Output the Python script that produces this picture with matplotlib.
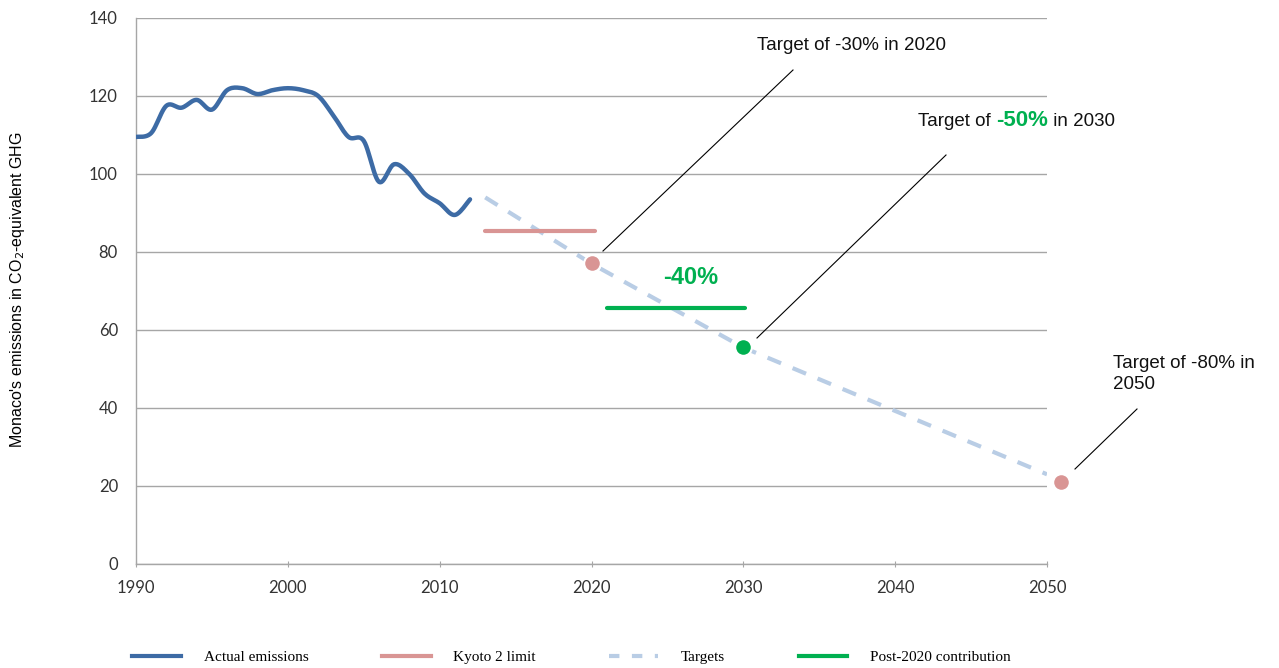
import numpy as np
import matplotlib
matplotlib.use("Agg")
import matplotlib.pyplot as plt
from matplotlib.lines import Line2D

# data
years = list(range(1990, 2013))
emissions = [109.5, 110.5, 117.5, 117.0, 119.0, 116.5, 121.5, 122.0, 120.5, 121.5,
             122.0, 121.5, 120.0, 115.0, 109.5, 108.5, 98.0, 102.5, 100.0, 95.0,
             92.5, 89.5, 93.5]

target_years = [2013, 2020, 2030, 2050]
target_values = [94.0, 77.0, 55.5, 23.0]

kyoto_years = [2013, 2020.2]
kyoto_values = [85.4, 85.4]

post2020_years = [2021, 2030.1]
post2020_values = [65.6, 65.6]

point_years = [2020, 2030, 2050.9]
point_values = [77.2, 55.6, 21.0]
point_colors = ["#D99594", "#00B050", "#D99594"]

BLUE = "#3D6BA5"
PINK = "#D99594"
LIGHT = "#B9CDE5"
GREEN = "#00B050"


def smooth(x, y, n=12):
    # Catmull-Rom curve through the points (like Excel's smoothed line)
    x = np.asarray(x, float)
    y = np.asarray(y, float)
    px = np.concatenate([[x[0]], x, [x[-1]]])
    py = np.concatenate([[y[0]], y, [y[-1]]])
    xs, ys = [], []
    t = np.linspace(0, 1, n, endpoint=False)
    for i in range(1, len(px) - 2):
        for arr, out in ((px, xs), (py, ys)):
            p0, p1, p2, p3 = arr[i - 1], arr[i], arr[i + 1], arr[i + 2]
            out.extend(0.5 * ((2 * p1) + (-p0 + p2) * t
                              + (2 * p0 - 5 * p1 + 4 * p2 - p3) * t ** 2
                              + (-p0 + 3 * p1 - 3 * p2 + p3) * t ** 3))
    xs.append(x[-1])
    ys.append(y[-1])
    return np.array(xs), np.array(ys)


fig = plt.figure(figsize=(12.79, 6.68), dpi=100)
ax = fig.add_axes([136 / 1279, 104 / 668, 911 / 1279, 546 / 668])

sx, sy = smooth(years, emissions)
ax.plot(sx, sy, color=BLUE, lw=3.2, solid_capstyle="round", zorder=4)
ax.plot(target_years, target_values, color=LIGHT, lw=3, dashes=(3.5, 3), zorder=3)
ax.plot(kyoto_years, kyoto_values, color=PINK, lw=3, solid_capstyle="round", zorder=4)
ax.plot(post2020_years, post2020_values, color=GREEN, lw=3, solid_capstyle="round", zorder=4)
for xv, yv, c in zip(point_years, point_values, point_colors):
    ax.plot(xv, yv, "o", ms=12, color=c, mec="white", mew=1.5, zorder=5, clip_on=False)

ax.text(2026.5, 73.5, "-40%", color=GREEN, fontsize=17, fontweight="bold",
        ha="center", va="center", family="Liberation Sans")

ax.set_xlim(1990, 2050)
ax.set_ylim(0, 140)
ax.set_xticks(range(1990, 2051, 10))
ax.set_yticks(range(0, 141, 20))
ax.yaxis.grid(True, color="#A6A6A6", lw=1)
ax.set_axisbelow(True)
for s in ["top", "right"]:
    ax.spines[s].set_visible(False)
for s in ["left", "bottom"]:
    ax.spines[s].set_color("#A6A6A6")
    ax.spines[s].set_linewidth(1)
ax.tick_params(axis="y", length=0, pad=13, labelsize=12)
ax.tick_params(axis="x", length=5, direction="inout", color="#A6A6A6", labelsize=12, pad=9)
for lab in ax.get_xticklabels() + ax.get_yticklabels():
    lab.set_family("Lato")
    lab.set_color("#333333")

fig.text(18 / 1279, 1 - 290 / 668, "Monaco's emissions in CO$_2$-equivalent GHG",
         rotation=90, ha="center", va="center", fontsize=11.5, family="Liberation Sans")

# annotations with leader lines
ann_font = dict(fontsize=13.5, family="Liberation Sans", color="#111111")
fig.add_artist(Line2D([603 / 1279, 793 / 1279], [1 - 251 / 668, 1 - 70 / 668], color="black", lw=0.8))
fig.add_artist(Line2D([757 / 1279, 946 / 1279], [1 - 338 / 668, 1 - 155 / 668], color="black", lw=0.8))
fig.add_artist(Line2D([1075 / 1279, 1137 / 1279], [1 - 469 / 668, 1 - 409 / 668], color="black", lw=0.8))
fig.text(757 / 1279, 1 - 45 / 668, "Target of -30% in 2020", va="center", **ann_font)
t1 = fig.text(918 / 1279, 1 - 121 / 668, "Target of ", va="center", **ann_font)
fig.canvas.draw()
r = fig.canvas.get_renderer()
bb = t1.get_window_extent(r)
t2 = fig.text(bb.x1 / 1279, 1 - 121 / 668, "-50%", va="center", fontsize=16, fontweight="bold",
              family="Liberation Sans", color=GREEN)
bb2 = t2.get_window_extent(r)
fig.text(bb2.x1 / 1279, 1 - 121 / 668, " in 2030", va="center", **ann_font)
fig.text(1113 / 1279, 1 - 374 / 668, "Target of -80% in\n2050", va="center", linespacing=1.3, **ann_font)

# legend along the bottom
handles = [
    Line2D([], [], color=BLUE, lw=3),
    Line2D([], [], color=PINK, lw=3),
    Line2D([], [], color=LIGHT, lw=3, dashes=(2.5, 3)),
    Line2D([], [], color=GREEN, lw=3),
]
labels = ["Actual emissions", "Kyoto 2 limit", "Targets", "Post-2020 contribution"]
fig.legend(handles, labels, loc="center left", bbox_to_anchor=(118 / 1279, 1 - 657 / 668),
           ncol=4, frameon=False, handlelength=3.2, handletextpad=1.5, columnspacing=4.8,
           prop={"family": "Liberation Serif", "size": 11})

fig.savefig("out.png", dpi=100)
